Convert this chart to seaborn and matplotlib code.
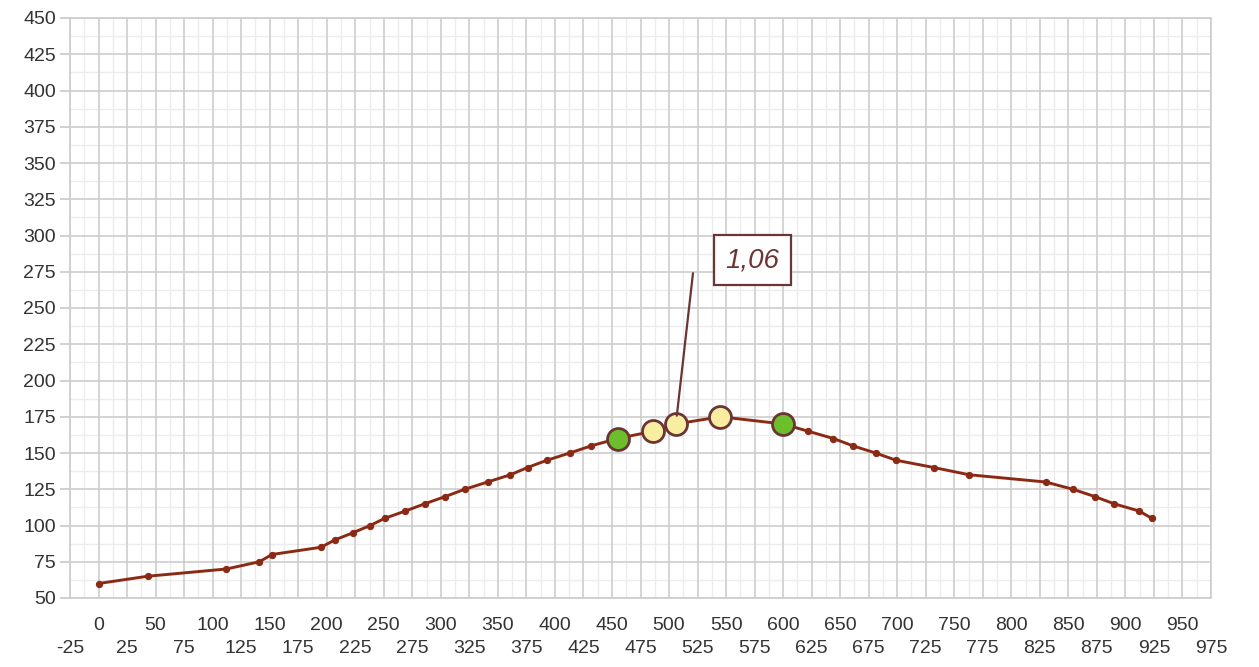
import numpy as np
import pandas as pd
import matplotlib
matplotlib.use("Agg")
import matplotlib.pyplot as plt
import seaborn as sns
from matplotlib.ticker import MultipleLocator, FixedLocator, FuncFormatter

# =========================
# Data
# =========================
dist = [0, 43, 112, 141, 152, 195, 207, 223, 238, 251, 269, 286, 304, 321, 341,
        361, 376, 393, 413, 432, 455, 486, 506, 545, 600, 622, 644, 661, 681,
        699, 732, 763, 830, 854, 873, 890, 912, 923]
height = [60, 65, 70, 75, 80, 85, 90, 95, 100, 105, 110, 115, 120, 125, 130,
          135, 140, 145, 150, 155, 160, 165, 170, 175, 170, 165, 160, 155, 150,
          145, 140, 135, 130, 125, 120, 115, 110, 105]

green_idx = [20, 24]
yellow_idx = [21, 22, 23]
label_idx = 22
label_text = "1,06"

df = pd.DataFrame({"dist": dist, "height": height})

# =========================
# Plot
# =========================
sns.set_theme(style="white")
plt.rcParams["font.family"] = ["Liberation Sans", "DejaVu Sans"]

fig = plt.figure(figsize=(12.59, 6.67), dpi=100)
ax = fig.add_axes([70 / 1259, 1 - 598 / 667, (1211 - 70) / 1259, (598 - 18) / 667])

line_col = "#8b2a14"
edge_col = "#6b3535"

# light grid every 12.5
for v in np.arange(-12.5, 975, 25):
    ax.axvline(v, color="#ececec", lw=1, zorder=0)
for v in np.arange(62.5, 450, 25):
    ax.axhline(v, color="#ececec", lw=1, zorder=0)

sns.lineplot(data=df, x="dist", y="height", sort=False, color=line_col, lw=2.1,
             marker="o", markersize=4.5, markeredgecolor=line_col, ax=ax, zorder=3)

sns.scatterplot(data=df.iloc[green_idx], x="dist", y="height", s=250,
                color="#6cbf2a", edgecolor=edge_col, linewidth=2, ax=ax, zorder=4)
sns.scatterplot(data=df.iloc[yellow_idx], x="dist", y="height", s=250,
                color="#f8eda0", edgecolor=edge_col, linewidth=2, ax=ax, zorder=4)

# annotation leader and boxed label
ax.annotate("", xy=(dist[label_idx], height[label_idx]), xytext=(521, 274),
            arrowprops=dict(arrowstyle="-", color=edge_col, lw=1.6,
                            shrinkA=0, shrinkB=6), zorder=5)
ax.text(573, 283, label_text, fontsize=20, style="italic", color=edge_col,
        ha="center", va="center", zorder=6,
        bbox=dict(boxstyle="square,pad=0.42", fc="white", ec=edge_col, lw=1.6))

# axes
ax.set_xlim(-25, 975)
ax.set_ylim(50, 450)
ax.xaxis.set_major_locator(MultipleLocator(50))
ax.xaxis.set_minor_locator(FixedLocator(np.arange(-25, 1000, 50)))
ax.yaxis.set_major_locator(MultipleLocator(25))
ax.xaxis.set_minor_formatter(FuncFormatter(lambda v, p: f"{v:.0f}"))

ax.grid(True, which="both", axis="x", color="#cdcdcd", lw=1.2, zorder=1)
ax.grid(True, which="major", axis="y", color="#cdcdcd", lw=1.2, zorder=1)
ax.set_axisbelow(True)

ax.tick_params(axis="x", which="major", length=7, width=1.2, color="#c8c8c8",
               labelsize=14, labelcolor="#333333", pad=7)
ax.tick_params(axis="x", which="minor", length=7, width=1.2, color="#c8c8c8",
               labelsize=14, labelcolor="#333333", pad=23)
ax.tick_params(axis="y", which="major", length=7, width=1.2, color="#c8c8c8",
               labelsize=14, labelcolor="#333333", pad=3, left=True)

for s in ax.spines.values():
    s.set_color("#cdcdcd")
    s.set_linewidth(1.2)

ax.set_xlabel("")
ax.set_ylabel("")

plt.savefig("out.png", dpi=100)
